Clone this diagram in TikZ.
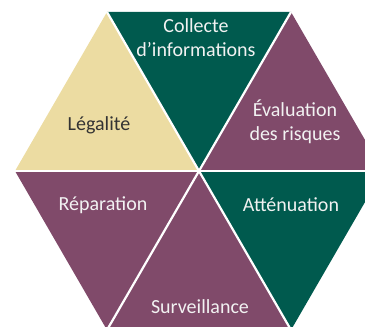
\documentclass[tikz,border=0pt]{standalone}
\usepackage{fontspec}
\setmainfont{Carlito}
\definecolor{hgreen}{RGB}{0,90,78}
\definecolor{hpurple}{RGB}{128,74,106}
\definecolor{hbeige}{RGB}{236,220,162}
\begin{document}
\begin{tikzpicture}[x=1pt,y=1pt,
  tri/.style={draw=white,line width=2.2pt,line join=miter},
  lbl/.style={align=center,font=\fontsize{20}{24}\selectfont,text=white!95!black,inner sep=0pt},
  lbldark/.style={lbl,text=black!80}]
\useasboundingbox (0,0) rectangle (365,327);
\clip (0,0) rectangle (365,327);
\coordinate (C) at (199,156);
\coordinate (V0) at (383,156);
\coordinate (V1) at (291,315);
\coordinate (V2) at (107,315);
\coordinate (V3) at (15,156);
\coordinate (V4) at (107,-3);
\coordinate (V5) at (291,-3);
\fill[hbeige] (C) -- (V2) -- (V3) -- cycle;
\fill[hgreen] (C) -- (V1) -- (V2) -- cycle;
\fill[hpurple] (C) -- (V0) -- (V1) -- cycle;
\fill[hpurple] (C) -- (V3) -- (V4) -- cycle;
\fill[hpurple] (C) -- (V4) -- (V5) -- cycle;
\fill[hgreen] (C) -- (V5) -- (V0) -- cycle;
\draw[tri] (V0) -- (V3);
\draw[tri] (V1) -- (V4);
\draw[tri] (V2) -- (V5);
\node[lbl] (collecte) at (196,289) {Collecte\\d’informations};
\node[lbldark] (legalite) at (99,202) {Légalité};
\node[lbl] (evaluation) at (295,205) {Évaluation\\des risques};
\node[lbl] (reparation) at (103,122) {Réparation};
\node[lbl] (attenuation) at (291,122) {Atténuation};
\node[lbl] (surveillance) at (200,20) {Surveillance};
\end{tikzpicture}
\end{document}
